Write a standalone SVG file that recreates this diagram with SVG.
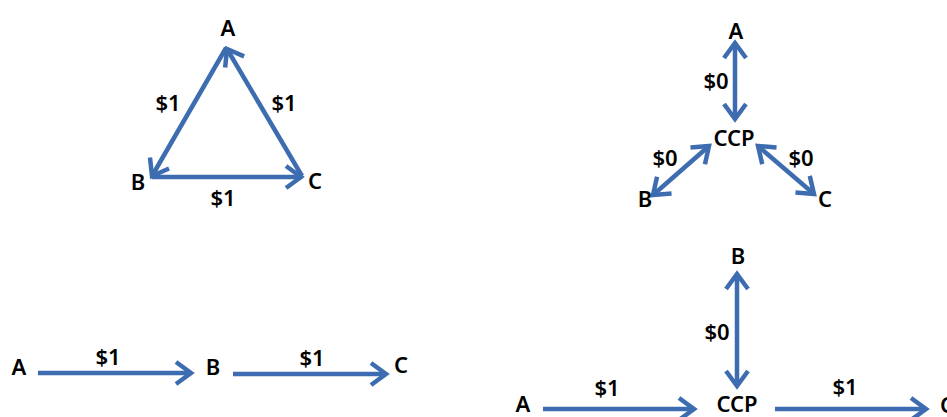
<svg xmlns="http://www.w3.org/2000/svg" width="947" height="417" viewBox="0 0 947 417">
<style>
.t{font-family:"Noto Sans","Open Sans",sans-serif;font-weight:600;font-size:22px;fill:#000;text-anchor:middle}
.e{stroke:#3D6DB0;stroke-width:4.5;fill:none}
.s{marker-end:url(#ah)}
.d{marker-end:url(#ah);marker-start:url(#ah)}
</style>
<defs>
<marker id="ah" markerUnits="userSpaceOnUse" viewBox="-20 -14 24 28" refX="0" refY="0" markerWidth="24" markerHeight="28" orient="auto-start-reverse" overflow="visible">
<path d="M-15,-11 L0,0 L-15,11" fill="none" stroke="#3D6DB0" stroke-width="4.5"/>
</marker>
</defs>
<g id="connectors">
<line class="e s" x1="226" y1="48" x2="152" y2="176"/>
<line class="e s" x1="152" y1="177" x2="301" y2="177"/>
<line class="e s" x1="302" y1="176" x2="227" y2="49"/>
<line class="e d" x1="735" y1="43" x2="735" y2="119"/>
<line class="e d" x1="709" y1="146" x2="653" y2="195"/>
<line class="e d" x1="758" y1="146" x2="814" y2="194"/>
<line class="e s" x1="38" y1="373" x2="191" y2="373"/>
<line class="e s" x1="233" y1="374" x2="386" y2="374"/>
<line class="e d" x1="737" y1="274" x2="737" y2="386"/>
<line class="e s" x1="543" y1="409" x2="694" y2="409"/>
<line class="e s" x1="775" y1="409" x2="926" y2="409"/>
</g>
<g id="labels">
<text class="t" x="168" y="111">$1</text>
<text class="t" x="284" y="111">$1</text>
<text class="t" x="223" y="206">$1</text>
<text class="t" x="716" y="89">$0</text>
<text class="t" x="665" y="166">$0</text>
<text class="t" x="801" y="166">$0</text>
<text class="t" x="108" y="365">$1</text>
<text class="t" x="312" y="366">$1</text>
<text class="t" x="717" y="340">$0</text>
<text class="t" x="607" y="396">$1</text>
<text class="t" x="845" y="395">$1</text>
</g>
<g id="tri-A"><text class="t" x="228" y="36">A</text></g>
<g id="tri-B"><text class="t" x="138" y="190">B</text></g>
<g id="tri-C"><text class="t" x="315" y="189">C</text></g>
<g id="star-A"><text class="t" x="736" y="39">A</text></g>
<g id="star-CCP"><text class="t" x="734" y="146">CCP</text></g>
<g id="star-B"><text class="t" x="645" y="207">B</text></g>
<g id="star-C"><text class="t" x="825" y="207">C</text></g>
<g id="chain-A"><text class="t" x="19" y="375">A</text></g>
<g id="chain-B"><text class="t" x="213" y="375">B</text></g>
<g id="chain-C"><text class="t" x="401" y="373">C</text></g>
<g id="hub-B"><text class="t" x="738" y="264">B</text></g>
<g id="hub-A"><text class="t" x="523" y="412">A</text></g>
<g id="hub-CCP"><text class="t" x="737" y="412">CCP</text></g>
<g id="hub-C"><text class="t" x="947" y="413">C</text></g>
</svg>
